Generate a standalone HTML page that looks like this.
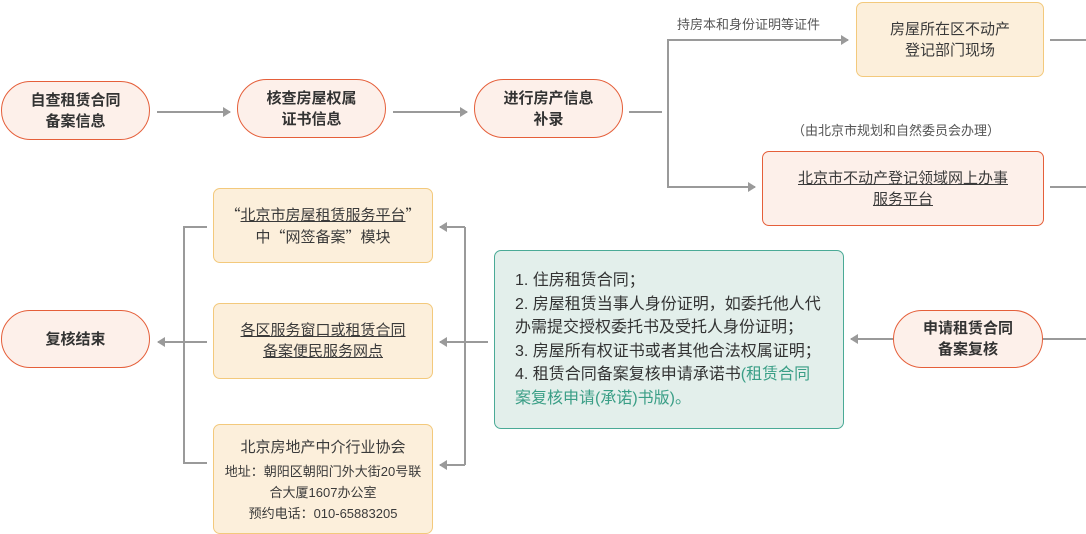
<!DOCTYPE html>
<html><head><meta charset="utf-8"><style>
body{margin:0;width:1086px;height:534px;background:#fff;position:relative;overflow:hidden;font-family:"Liberation Sans","Noto Sans CJK SC",sans-serif;color:#3a3a3a}
.b{position:absolute;box-sizing:border-box;display:flex;align-items:center;justify-content:center;text-align:center;font-size:15px;line-height:21px}
.pill{border:1.5px solid #e55f3a;background:#fdf0ea;border-radius:30px;font-weight:bold;color:#333}
.y{border:1px solid #f3c97c;background:#fcefdb;border-radius:7px}
.p{border:1px solid #e55f3a;background:#fdf0ea;border-radius:7px}
u{text-decoration:underline}
.t{position:absolute;font-size:13px;color:#555;white-space:nowrap}
.q{font-family:"Noto Sans CJK SC",sans-serif}
</style></head><body>
<svg width="1086" height="534" style="position:absolute;left:0;top:0">
<defs><marker id="a" markerWidth="8" markerHeight="10" refX="7" refY="5" orient="auto" markerUnits="userSpaceOnUse"><path d="M0,0L8,5L0,10z" fill="#9a9a9a"/></marker></defs>
<g stroke="#9a9a9a" stroke-width="2" fill="none">
<line x1="157" y1="112" x2="230" y2="112" marker-end="url(#a)"/>
<line x1="393" y1="112" x2="467" y2="112" marker-end="url(#a)"/>
<line x1="629" y1="112" x2="662" y2="112"/>
<polyline points="848,40 668,40 668,187 755,187" marker-end="url(#a)"/>
<line x1="668" y1="40" x2="848" y2="40" marker-end="url(#a)"/>
<line x1="1050" y1="40" x2="1086" y2="40"/>
<line x1="1050" y1="187" x2="1086" y2="187"/>
<line x1="1086" y1="339" x2="851" y2="339" marker-end="url(#a)"/>
<line x1="488" y1="342" x2="440" y2="342" marker-end="url(#a)"/>
<polyline points="465,227 465,465"/>
<line x1="465" y1="227" x2="440" y2="227" marker-end="url(#a)"/>
<line x1="465" y1="465" x2="440" y2="465" marker-end="url(#a)"/>
<polyline points="207,227 184,227 184,463 207,463"/>
<line x1="207" y1="342" x2="158" y2="342" marker-end="url(#a)"/>
</g></svg>
<div class="b pill" style="left:1px;top:81px;width:149px;height:59px"><div>自查租赁合同<br>备案信息</div></div>
<div class="b pill" style="left:237px;top:79px;width:149px;height:59px"><div>核查房屋权属<br>证书信息</div></div>
<div class="b pill" style="left:474px;top:79px;width:149px;height:59px"><div>进行房产信息<br>补录</div></div>
<div class="t" style="left:677px;top:14px">持房本和身份证明等证件</div>
<div class="b y" style="left:856px;top:2px;width:188px;height:75px"><div>房屋所在区不动产<br>登记部门现场</div></div>
<div class="t" style="left:792px;top:120px">（由北京市规划和自然委员会办理）</div>
<div class="b p" style="left:762px;top:151px;width:282px;height:75px"><div><u>北京市不动产登记领域网上办事<br>服务平台</u></div></div>
<div class="b pill" style="left:893px;top:310px;width:150px;height:58px"><div>申请租赁合同<br>备案复核</div></div>
<div class="b" style="left:494px;top:250px;width:350px;height:179px;border:1px solid #4aaa96;background:#e3efeb;border-radius:7px;justify-content:flex-start;text-align:left;padding:0 4px 0 20px;font-size:16px;line-height:23.5px;color:#333">
<div style="white-space:nowrap">1. 住房租赁合同；<br>2. 房屋租赁当事人身份证明，如委托他人代<br>办需提交授权委托书及受托人身份证明；<br>3. 房屋所有权证书或者其他合法权属证明；<br>4. 租赁合同备案复核申请承诺书<span style="color:#3a9e86">(租赁合同<br>案复核申请(承诺)书版)。</span></div></div>
<div class="b y" style="left:213px;top:188px;width:220px;height:75px"><div><span class="q">“</span><u>北京市房屋租赁服务平台</u><span class="q">”</span><br>中<span class="q">“</span>网签备案<span class="q">”</span>模块</div></div>
<div class="b y" style="left:213px;top:303px;width:220px;height:76px"><div><u>各区服务窗口或租赁合同<br>备案便民服务网点</u></div></div>
<div class="b y" style="left:213px;top:424px;width:220px;height:110px;font-size:13px;line-height:21px"><div><span style="font-size:15px;line-height:26px">北京房地产中介行业协会</span><br>地址：朝阳区朝阳门外大街20号联<br>合大厦1607办公室<br>预约电话：010-65883205</div></div>
<div class="b pill" style="left:1px;top:310px;width:149px;height:58px"><div>复核结束</div></div>
</body></html>
